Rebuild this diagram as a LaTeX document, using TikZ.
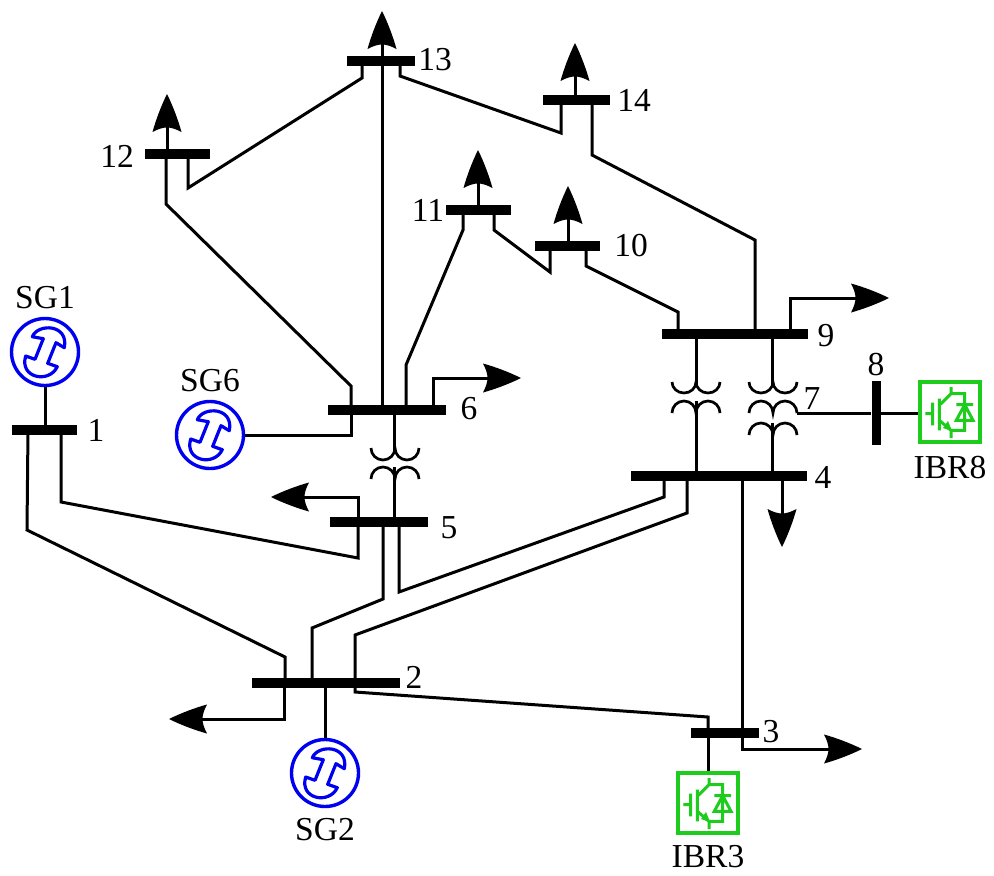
\documentclass[tikz,border=0pt]{standalone}
\usepackage{fontspec}
\setmainfont{Liberation Serif}
\usetikzlibrary{arrows.meta}
\definecolor{sgblue}{RGB}{0,0,240}
\definecolor{ibrgreen}{RGB}{30,204,30}
\pgfdeclarearrow{
  name=LoadTip,
  setup code={
    \pgfarrowssettipend{0pt}
    \pgfarrowssetbackend{-38pt}
    \pgfarrowssetlineend{-31pt}
    \pgfarrowssetvisualbackend{-33pt}
  },
  drawing code={
    \pgfpathmoveto{\pgfqpoint{0pt}{0pt}}
    \pgfpathcurveto{\pgfqpoint{-12pt}{6pt}}{\pgfqpoint{-27pt}{11.5pt}}{\pgfqpoint{-38pt}{14.5pt}}
    \pgfpathcurveto{\pgfqpoint{-35pt}{9pt}}{\pgfqpoint{-33.5pt}{4pt}}{\pgfqpoint{-33.5pt}{0pt}}
    \pgfpathcurveto{\pgfqpoint{-33.5pt}{-4pt}}{\pgfqpoint{-35pt}{-9pt}}{\pgfqpoint{-38pt}{-14.5pt}}
    \pgfpathcurveto{\pgfqpoint{-27pt}{-11.5pt}}{\pgfqpoint{-12pt}{-6pt}}{\pgfqpoint{0pt}{0pt}}
    \pgfpathclose
    \pgfusepathqfill
  }
}
\tikzset{
  bus/.style={fill=black,inner sep=0pt,minimum height=10pt,draw=none},
  vbus/.style={fill=black,inner sep=0pt,minimum width=9pt,draw=none},
  wire/.style={line width=3pt,black,line join=miter},
  coil/.style={line width=2.7pt,black},
  load/.style={wire,-{LoadTip}},
  lab/.style={inner sep=0pt,font=\fontsize{33.5}{33.5}\selectfont},
  sgnode/.style={circle,draw=sgblue,line width=3.4pt,minimum size=67pt,inner sep=0pt,fill=white},
  ibrnode/.style={rectangle,draw=ibrgreen,line width=3.4pt,minimum size=60pt,inner sep=0pt,fill=white},
  sgsym/.pic={
    \draw[sgblue,line width=3.2pt,line join=round]
      (-12.7,-15.3) .. controls (-7,-29) and (24,-28) .. (19.3,-4.3)
      -- (11,-9.3) -- (2.7,11.3) -- (12.3,14.7)
      .. controls (4,32) and (-26,26) .. (-19.3,4)
      -- (-10,7.3) -- (-1.7,-13.3) -- cycle;
  },
  ibrsym/.pic={
    \draw[ibrgreen,line width=3pt]
      (-24.7,1.7) -- (-17.3,1.7)
      (-17.3,-9.3) -- (-17.3,13.3)
      (-10.7,-13.3) -- (-10.7,18.3)
      (-10.7,-6.7) -- (1,-18.3)
      (1,-25) -- (1,-18.3) -- (14.7,-18.3) -- (14.7,18.3) -- (1,18.3)
      (-10.7,8.3) -- (1,18.3) -- (1,26)
      (6.3,-7.3) -- (23,-7.3)
      (14.7,-7.3) -- (6.3,8.3) -- (23,8.3) -- cycle;
    \fill[ibrgreen] (2,19) -- (-7,16) -- (-2,9) -- cycle;
  }
}
\newcommand{\upcoil}[3]{% U shapes on the page
  \draw[coil] (#1,#2) arc[start angle=180,end angle=0,x radius=12,y radius=#3]
     arc[start angle=180,end angle=0,x radius=12,y radius=#3];}
\newcommand{\downcoil}[3]{% n shapes on the page
  \draw[coil] (#1,#2) arc[start angle=180,end angle=360,x radius=12,y radius=#3]
     arc[start angle=180,end angle=360,x radius=12,y radius=#3];}
\begin{document}
\begin{tikzpicture}[x=1pt,y=-1pt]
\useasboundingbox (0,0) rectangle (994,876);
% buses
\node[bus,minimum width=65pt] (b1) at (44.5,430) {};
\node[bus,minimum width=148pt] (b2) at (326,683) {};
\node[bus,minimum width=68pt] (b3) at (725,733) {};
\node[bus,minimum width=176pt] (b4) at (719,476) {};
\node[bus,minimum width=98pt] (b5) at (379,522) {};
\node[bus,minimum width=118pt] (b6) at (387,410) {};
\node[vbus,minimum height=64pt] (b8) at (876,413) {};
\node[bus,minimum width=146pt] (b9) at (735,334) {};
\node[bus,minimum width=65pt] (b10) at (567.5,246) {};
\node[bus,minimum width=65pt] (b11) at (478.5,210) {};
\node[bus,minimum width=65pt] (b12) at (177.5,154) {};
\node[bus,minimum width=68pt] (b13) at (381,61) {};
\node[bus,minimum width=67pt] (b14) at (576.5,100) {};
% sources
\node[sgnode] (sg1) at (45,352) {};
\node[sgnode] (sg2) at (325,773) {};
\node[sgnode] (sg6) at (210,435) {};
\pic at (sg1) {sgsym};
\pic at (sg2) {sgsym};
\pic at (sg6) {sgsym};
\node[ibrnode] (ibr3) at (708,803) {};
\node[ibrnode] (ibr8) at (950,412) {};
\pic at (ibr3) {ibrsym};
\pic at (ibr8) {ibrsym};
% source connections
\draw[wire] (sg1.south) -- (sg1.south |- b1);
\draw[wire] (sg2.north) -- (sg2.north |- b2);
\draw[wire] (sg6.east) -- (351,435) -- (351,0 |- b6);
\draw[wire] (708,0 |- b3) -- (ibr3.north);
\draw[wire] (b8) -- (b8 -| ibr8.west);
% lines
\draw[wire] (28,0 |- b1) -- (27,530) -- (285,657) -- (285,0 |- b2);
\draw[wire] (61,0 |- b1) -- (61,502) -- (358,558) -- (358,0 |- b5);
\draw[wire] (312,0 |- b2) -- (312,628) -- (383,599) -- (383,0 |- b5);
\draw[wire] (399,0 |- b5) -- (399,592) -- (664,497) -- (664,0 |- b4);
\draw[wire] (355,0 |- b2) -- (355,635) -- (687,513) -- (687,0 |- b4);
\draw[wire] (355,0 |- b2) -- (355,692) -- (708,717) -- (708,0 |- b3);
\draw[wire] (742,0 |- b4) -- (742,0 |- b3);
\draw[wire] (351,0 |- b6) -- (351,386) -- (166,204) -- (166,0 |- b12);
\draw[wire] (382,0 |- b6) -- (382,0 |- b13);
\draw[wire] (406,0 |- b6) -- (406,365) -- (463,230) -- (463,0 |- b11);
\draw[wire] (188,0 |- b12) -- (188,188) -- (362,78) -- (362,0 |- b13);
\draw[wire] (400,0 |- b13) -- (400,76) -- (561,133) -- (561,0 |- b14);
\draw[wire] (592,0 |- b14) -- (592,155) -- (755,240) -- (755,0 |- b9);
\draw[wire] (494,0 |- b11) -- (494,230) -- (550,272) -- (550,0 |- b10);
\draw[wire] (586,0 |- b10) -- (586,266) -- (678,312) -- (678,0 |- b9);
% loads
\draw[load] (358,0 |- b5) -- (358,497) -- (271,497);
\draw[load] (284,0 |- b2) -- (284,719) -- (169,719);
\draw[load] (742,0 |- b3) -- (742,749) -- (862,749);
\draw[load] (782,0 |- b4) -- (782,547);
\draw[load] (433,0 |- b6) -- (433,378) -- (521,378);
\draw[load] (790,0 |- b9) -- (790,298) -- (889,298);
\draw[load] (382,0 |- b13) -- (382,11);
\draw[load] (575,0 |- b14) -- (575,43);
\draw[load] (478,0 |- b11) -- (478,150);
\draw[load] (568,0 |- b10) -- (568,186);
\draw[load] (167,0 |- b12) -- (167,94);
% transformers
\draw[wire] (394,0 |- b6) -- (394,451);
\upcoil{371}{448}{12}
\downcoil{371}{479}{12}
\draw[wire] (394,467) -- (394,0 |- b5);
\draw[wire] (696,0 |- b9) -- (696,385);
\upcoil{672}{382}{11}
\downcoil{672}{413}{12}
\draw[wire] (696,401) -- (696,0 |- b4);
\draw[wire] (772,0 |- b9) -- (772,385);
\upcoil{749}{382}{11}
\downcoil{749}{413}{12}
\downcoil{749}{435}{12}
\draw[wire] (772,423) -- (772,0 |- b4);
\draw[wire] (797,413) -- (b8);
% labels
\node[lab] (l1) at (96,430) {1};
\node[lab] (l2) at (414,677) {2};
\node[lab] (l3) at (771,732) {3};
\node[lab] (l4) at (823,477) {4};
\node[lab] (l5) at (449,528) {5};
\node[lab] (l6) at (469,409) {6};
\node[lab] (l7) at (812,399) {7};
\node[lab] (l8) at (876,365) {8};
\node[lab] (l9) at (826,336) {9};
\node[lab] (l10) at (631,246) {10};
\node[lab] (l11) at (428,210) {11};
\node[lab] (l12) at (117,156) {12};
\node[lab] (l13) at (435,60) {13};
\node[lab] (l14) at (634,100) {14};
\node[lab] (lsg1) at (45,298) {SG1};
\node[lab] (lsg6) at (210,381) {SG6};
\node[lab] (lsg2) at (325,830) {SG2};
\node[lab] (libr3) at (708,857) {IBR3};
\node[lab] (libr8) at (950,468) {IBR8};
\end{tikzpicture}
\end{document}
